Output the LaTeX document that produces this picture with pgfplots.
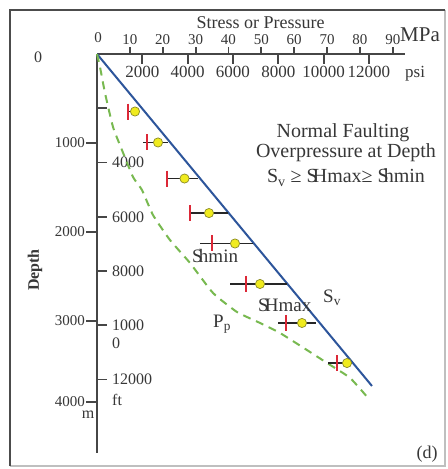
\documentclass[border=0pt]{standalone}
\usepackage{pgfplots}
\pgfplotsset{compat=1.18}
\usepackage{fontspec}
\setmainfont{Liberation Serif}
\definecolor{axgray}{RGB}{70,70,70}
\definecolor{txtgray}{RGB}{55,55,55}
\definecolor{svblue}{RGB}{45,85,155}
\definecolor{ppgreen}{RGB}{120,185,80}
\definecolor{redtick}{RGB}{220,40,55}
\definecolor{dotfill}{RGB}{240,235,30}
\definecolor{dotedge}{RGB}{140,140,40}
\newcommand\fs[1]{\fontsize{#1bp}{#1bp}\selectfont}
\pgfplotsset{
  common/.style={
    at={(97bp,-54bp)}, anchor=north west,
    scale only axis, width=308bp, height=399bp,
    y dir=reverse,
    axis x line=top, axis y line=left,
    axis line style={-, line width=1.8bp, axgray},
    every tick/.style={line width=1.8bp, axgray},
    scaled x ticks=false, scaled y ticks=false,
    /pgf/number format/assume math mode=true,
    clip=false,
  }
}
\begin{document}
\begin{tikzpicture}[x=1bp,y=1bp]
\useasboundingbox (0,0) rectangle (448,-469);
\fill[white] (0,0) rectangle (448,-469);
\draw[line width=1.5bp, color=black!25] (445,-10) -- (445,-466) -- (10,-466);
\draw[line width=2.5bp, color=black!70] (10,-466) -- (10,-10) -- (445,-10);

% metric depth ticks
\begin{axis}[common,
  xmin=0, xmax=93.7, ymin=0, ymax=4483,
  xtick=\empty,
  ytick={1000,2000,3000,3910},
  yticklabels={1000,2000,3000,4000},
  tick align=outside, major tick length=11bp,
  yticklabel style={font=\fs{15}, text=txtgray, inner sep=1bp},
]
\end{axis}

% psi / ft ticks
\begin{axis}[common,
  xmin=0, xmax=13590, ymin=0, ymax=14708,
  xtick={2000,4000,6000,8000,10000,12000},
  xticklabels={2000,4000,6000,8000,10000,12000},
  ytick={2000,4000,6000,8000,10000,12000},
  yticklabels={,4000,6000,8000,1000,12000},
  tick align=inside, major tick length=10bp,
  xticklabel style={font=\fs{17}, text=txtgray, anchor=north, inner sep=1bp, yshift=-11bp},
  yticklabel style={font=\fs{16}, text=txtgray, anchor=west, inner sep=1bp, xshift=14bp},
]
\end{axis}

% MPa axis and data
\begin{axis}[common,
  xmin=0, xmax=93.7, ymin=0, ymax=4483,
  xtick={10,20,30,40,50,60,70,80,90},
  xticklabels={10,20,30,40,50,60,70,80,90},
  ytick=\empty,
  tick align=outside, major tick length=7bp,
  xticklabel style={font=\fs{15}, text=txtgray, inner sep=1bp, yshift=1bp},
]
\addplot[svblue, line width=2bp] coordinates {(0,0) (83.65,3730)};
\addplot[ppgreen, line width=2bp, dash pattern=on 8bp off 6bp, smooth, tension=0.3] coordinates {
 (0,0) (0.91,146) (2.43,438) (4.87,820) (7.60,1079) (10.95,1382) (13.69,1528)
 (17.03,1809) (22.2,2090) (28.3,2348) (35.3,2685) (42.6,2899) (49.6,3022)
 (55.7,3135) (64.8,3348) (70.0,3472) (77.0,3640) (83.0,3888)};
\addplot[only marks, mark=none, error bars/.cd, x dir=both, x explicit,
  error mark=none, error bar style={line width=1.6bp, black!85}]
  table[x=x, y=y, x error minus=em, x error plus=ep] {
x y em ep
11.56 646 2.43 1.52
18.56 994 4.57 3.04
26.62 1399 5.33 4.10
34.07 1787 5.78 5.78
41.98 2129 10.65 5.47
49.58 2584 9.12 8.21
62.36 3022 7.30 4.26
76.05 3472 5.78 1.52
};
\addplot[only marks, mark=|, mark size=8bp, mark options={redtick, line width=1.6bp}] coordinates {
 (9.43,646) (15.21,994) (21.29,1399) (28.29,1787) (34.98,2129) (45.32,2584) (57.49,3022) (73.00,3472)};
\addplot[only marks, mark=*, mark size=4.6bp, mark options={fill=dotfill, draw=dotedge, line width=0.7bp}] coordinates {
 (11.56,646) (18.56,994) (26.62,1399) (34.07,1787) (41.98,2129) (49.58,2584) (62.36,3022) (76.05,3472)};
\end{axis}

\begin{scope}[every node/.style={text=txtgray, inner sep=0pt}]
\node[anchor=base, font=\fs{18}] at (260.5,-28.5) {Stress or Pressure};
\node[anchor=base, font=\fs{15}] at (98,-43) {0};
\node[anchor=base west, font=\fs{21}] at (400,-42) {MPa};
\node[anchor=base west, font=\fs{17}] at (405,-78) {psi};
\node[anchor=center, font=\fs{16}] at (38,-57) {0};
\node[anchor=base, font=\fs{16}] at (88,-418) {m};
\node[anchor=base west, font=\fs{16}] at (112,-348) {0};
\node[anchor=base west, font=\fs{16}] at (112,-405) {ft};
\node[rotate=90, font=\bfseries\fs{16}] at (35,-270) {Depth};
\node[anchor=base, font=\fs{20}] at (343,-138) {Normal Faulting};
\node[anchor=base, font=\fs{20}] at (346,-158) {Overpressure at Depth};
\node[anchor=base, font=\fs{20}] at (346,-183) {S\textsubscript{v} ≥ S\kern-.25em Hmax≥ S\kern-.25em hmin};
\node[anchor=base west, font=\fs{19}] at (192,-262) {S\kern-.2em hmin};
\node[anchor=base west, font=\fs{19}] at (258,-311) {S\kern-.2em Hmax};
\node[anchor=base west, font=\fs{19}] at (323,-302) {S\textsubscript{v}};
\node[anchor=base west, font=\fs{19}] at (213,-327) {P\textsubscript{p}};
\node[anchor=base, font=\fs{18}] at (427,-458) {(d)};
\end{scope}
\end{tikzpicture}
\end{document}
